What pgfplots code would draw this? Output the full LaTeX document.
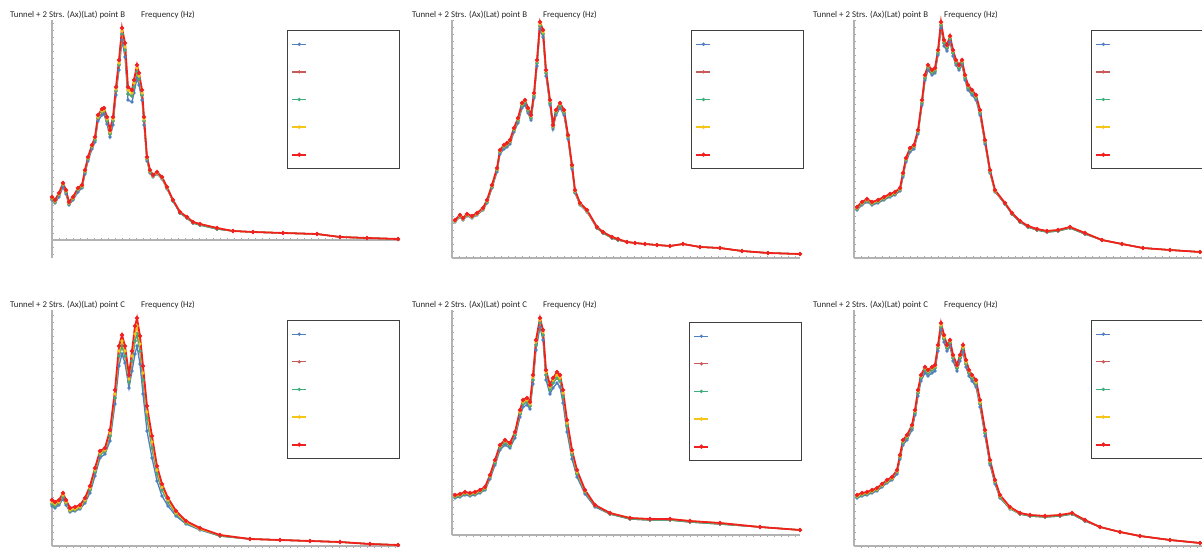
\documentclass[border=0pt]{standalone}
\usepackage{pgfplots}
\pgfplotsset{compat=1.18}
\usepackage{pgfplotstable}
\usepackage{fontspec}
\setmainfont{Carlito}
\definecolor{cB}{HTML}{4F7FC0}
\definecolor{cS}{HTML}{C85A5A}
\definecolor{cG}{HTML}{3CB07A}
\definecolor{cY}{HTML}{F5C518}
\definecolor{cR}{HTML}{F02020}

\pgfplotstableread{
x r b m yv
0 43 40 41 42
3 40 37 38 39
7 47 43 45 46
11 57 53 55 56
14 50 46 48 49
17 38 35 36 37
21 43 40 41 42
26 52 48 50 51
30 55 52 53 54
33 70 66 68 69
36 83 79 81 82
40 95 91 93 94
43 103 98 100 102
46 125 119 122 123
50 131 125 128 129
52 132 126 129 130
55 123 116 119 121
58 110 103 106 108
61 123 115 119 121
64 153 145 149 151
67 180 170 175 177
70 212 200 206 209
73 197 183 190 193
76 153 140 146 150
80 150 138 144 147
82 160 147 153 157
85 175 162 168 172
87 167 155 161 164
90 150 140 145 147
92 123 115 119 121
95 83 79 81 82
98 70 67 68 69
101 65 63 64 64
105 68 66 67 67
110 63 61 62 62
115 53 51 52 52
121 40 39 39 40
128 28 27 27 28
135 23 22 22 23
141 18 17 17 18
148 16 15 15 16
165 12 11 11 12
181 9 9 9 9
201 8 8 8 8
231 7 7 7 7
265 6 6 6 6
288 3 3 3 3
315 2 2 2 2
346 1 1 1 1
}\tA

\pgfplotstableread{
x r b m yv
3 38 36 37 37
8 43 41 42 42
11 40 38 39 39
15 44 42 43 43
20 42 40 41 41
25 45 43 44 44
31 50 48 49 49
35 58 55 56 57
40 73 70 71 72
45 90 86 88 89
48 108 104 106 107
52 113 109 111 112
55 115 111 113 114
58 118 114 116 117
62 130 126 128 129
66 140 135 137 139
70 155 150 152 154
73 158 153 155 157
76 150 145 147 149
79 143 138 140 142
82 165 160 162 164
85 198 192 195 197
88 236 229 232 234
91 228 221 224 226
94 188 182 185 187
98 158 153 155 157
101 133 129 131 132
104 148 143 145 147
108 155 150 152 154
112 148 143 145 147
116 123 119 121 122
120 93 89 91 92
123 68 65 66 67
128 55 53 54 54
135 48 46 47 47
145 31 30 30 31
151 26 25 25 26
160 21 20 20 21
166 19 18 18 19
175 16 16 16 16
183 15 15 15 15
193 14 14 14 14
205 13 13 13 13
218 12 12 12 12
231 14 14 14 14
248 11 11 11 11
268 10 10 10 10
290 7 7 7 7
316 5 5 5 5
348 4 4 4 4
}\tB

\pgfplotstableread{
x r b m yv
3 51 48 49 50
8 56 53 54 55
13 59 56 57 58
18 56 53 54 55
24 58 55 56 57
30 61 58 59 60
36 64 61 62 63
41 66 63 64 65
46 70 67 68 69
49 85 81 83 84
52 100 96 98 99
56 110 106 108 109
60 113 109 111 112
64 128 124 126 127
68 158 153 155 157
71 183 178 180 182
74 193 188 190 192
78 188 183 185 187
81 190 185 187 189
84 208 203 205 207
87 236 230 233 235
90 218 212 215 217
93 213 207 210 212
96 222 216 219 221
99 208 202 205 207
102 198 193 195 197
105 193 188 190 192
108 198 193 195 197
111 183 178 180 182
114 173 168 170 172
118 168 163 165 167
122 163 158 160 162
126 148 143 145 147
131 118 114 116 117
136 88 85 86 87
141 68 66 67 67
151 55 54 54 55
158 45 44 44 45
166 37 36 36 37
174 32 31 31 32
183 29 28 28 29
193 27 26 26 27
204 28 27 27 28
216 31 30 30 31
231 25 24 24 25
248 18 18 18 18
268 14 14 14 14
289 10 10 10 10
316 8 8 8 8
346 6 6 6 6
}\tC

\pgfplotstableread{
x r b m yv
0 46 40 42 44
3 44 38 40 42
7 46 41 43 44
11 53 47 49 51
14 46 41 43 44
18 38 34 35 36
23 39 35 36 37
28 41 37 38 39
33 48 43 45 46
38 60 53 56 58
43 78 70 74 76
48 95 88 91 93
53 98 92 95 96
58 116 105 110 113
63 156 142 148 152
67 200 180 190 195
70 211 192 200 205
73 200 183 190 195
77 171 158 164 167
80 195 175 185 190
83 220 192 205 212
85 228 200 212 220
88 210 182 195 202
91 180 152 166 173
95 140 115 128 134
100 110 88 98 104
105 80 65 72 76
110 62 50 56 59
116 48 40 44 46
124 35 30 32 33
134 25 22 23 24
148 18 16 17 17
168 11 10 10 11
198 7 7 7 7
228 6 6 6 6
258 5 5 5 5
288 4 4 4 4
318 2 2 2 2
346 1 1 1 1
}\tD

\pgfplotstableread{
x r b m yv
3 40 37 38 39
8 41 38 39 40
13 43 40 41 42
18 42 39 40 41
23 43 40 41 42
28 45 42 43 44
33 48 45 46 47
38 60 56 58 59
43 75 70 72 74
48 90 85 87 89
53 95 90 92 94
58 92 87 89 91
63 103 97 100 102
68 125 118 121 123
71 135 128 131 133
75 137 130 133 135
78 133 126 129 131
81 160 151 155 158
84 195 185 190 193
88 217 208 212 215
91 205 195 200 203
94 165 155 160 163
98 150 141 145 148
101 157 147 152 155
105 163 152 157 160
108 160 148 154 157
111 145 132 138 142
115 115 103 109 112
120 85 76 80 83
125 65 58 61 63
133 45 41 43 44
143 30 28 29 30
158 22 21 21 22
178 17 16 16 17
198 16 15 15 16
218 16 15 15 16
238 14 13 13 14
268 12 11 11 12
308 8 8 8 8
348 5 5 5 5
}\tE

\pgfplotstableread{
x r b m yv
3 51 48 49 50
8 53 50 51 52
13 54 51 52 53
18 56 53 54 55
23 58 55 56 57
28 62 59 60 61
33 66 63 64 65
38 69 66 67 68
43 76 72 74 75
46 91 87 89 90
49 106 101 103 105
53 111 106 108 110
58 121 116 118 120
61 136 131 133 135
64 156 150 153 155
67 171 165 168 170
71 179 173 176 178
74 176 170 173 175
78 179 173 176 178
81 181 175 178 180
84 201 195 198 200
87 223 216 219 221
90 211 204 207 209
93 201 195 198 200
96 206 200 203 205
99 191 185 188 190
103 181 175 178 180
106 191 185 188 190
109 201 194 197 199
112 186 179 182 184
115 176 170 173 175
118 171 165 168 170
122 166 159 162 164
126 146 139 142 144
131 116 110 113 115
136 86 81 83 85
141 66 62 64 65
146 51 48 49 50
156 39 37 38 38
166 33 32 32 33
176 31 30 30 31
191 30 29 29 30
206 31 30 30 31
218 33 32 32 33
231 26 25 25 26
246 19 19 19 19
266 14 14 14 14
286 10 10 10 10
316 6 6 6 6
346 3 3 3 3
}\tF

\pgfplotsset{
  panel/.style={
    scale only axis, width=348pt, xmin=0, xmax=348,
    anchor=south west, clip=false,
    axis lines=middle,
    axis line style={-, draw=black!30, line width=1.2pt},
    xtick={0,7,...,348}, ytick distance=7,
    xticklabels={}, yticklabels={},
    tick style={draw=black!35, line width=0.5pt},
    major tick length=3pt, tick align=center,
    legend cell align=left,
    legend style={anchor=north west, draw=black!75, line width=1pt,
      inner xsep=4pt, inner ysep=0pt, row sep=0pt,
      nodes={inner sep=0pt}, font=\fontsize{8}{9}\selectfont},
    legend image code/.code={
      \path[draw=none, fill=none, mark=none] (0pt,-13.8pt) rectangle (14pt,13.8pt);
      \draw[mark repeat=2, mark phase=2, ##1] plot coordinates {(0pt,0pt) (7pt,0pt) (14pt,0pt)};},
  },
  sB/.style={cB, line width=1.3pt, mark=*, mark size=0.9pt},
  sS/.style={cS, line width=1.3pt, mark=*, mark size=0.9pt},
  sG/.style={cG, line width=1.3pt, mark=*, mark size=0.9pt},
  sY/.style={cY, line width=1.4pt, mark=*, mark size=1pt},
  sR/.style={cR, line width=1.8pt, mark=*, mark size=1pt},
}
\newcommand{\lent}{\addlegendentry{\hspace*{88pt}}}
\newcommand{\fiveplots}[1]{%
  \addplot[sB] table[x=x,y=b]{#1};\lent
  \addplot[sS] table[x=x,y=m]{#1};\lent
  \addplot[sG] table[x=x,y=m]{#1};\lent
  \addplot[sY] table[x=x,y=yv]{#1};\lent
  \addplot[sR] table[x=x,y=r]{#1};\lent
}
\newcommand{\ttl}[3]{%
  \node[anchor=base west, inner sep=0pt, font=\fontsize{8.8}{10}\selectfont, text=black!85] at (#1pt,#2pt) {Tunnel + 2 Strs. (Ax)(Lat) point #3};
  \node[anchor=base west, inner sep=0pt, font=\fontsize{8.8}{10}\selectfont, text=black!85] at (#1pt+131pt,#2pt) {Frequency (Hz)};
}

\begin{document}
\begin{tikzpicture}[x=1pt,y=1pt]
\path[use as bounding box] (0,0) rectangle (1202,549);

% top row
\begin{axis}[panel, at={(52pt,291pt)}, height=238pt, ymin=-18, ymax=220,
  legend style={at={(0.675,0.958)}}]
\fiveplots{\tA}
\end{axis}
\begin{axis}[panel, at={(452pt,291pt)}, height=238pt, ymin=0, ymax=238,
  legend style={at={(0.687,0.958)}}]
\fiveplots{\tB}
\end{axis}
\begin{axis}[panel, at={(854pt,291pt)}, height=238pt, ymin=0, ymax=238,
  legend style={at={(0.681,0.958)}}]
\fiveplots{\tC}
\end{axis}

% bottom row
\begin{axis}[panel, at={(52pt,3pt)}, height=236pt, ymin=0, ymax=236,
  legend style={at={(0.675,0.958)}}]
\fiveplots{\tD}
\end{axis}
\begin{axis}[panel, at={(452pt,14pt)}, height=225pt, ymin=0, ymax=225,
  legend style={at={(0.681,0.947)}}]
\fiveplots{\tE}
\end{axis}
\begin{axis}[panel, at={(854pt,3pt)}, height=236pt, ymin=0, ymax=236,
  legend style={at={(0.681,0.958)}}]
\fiveplots{\tF}
\end{axis}

\ttl{10}{531}{B}
\ttl{412}{531}{B}
\ttl{813}{531}{B}
\ttl{10}{241}{C}
\ttl{412}{241}{C}
\ttl{813}{241}{C}
\end{tikzpicture}
\end{document}
